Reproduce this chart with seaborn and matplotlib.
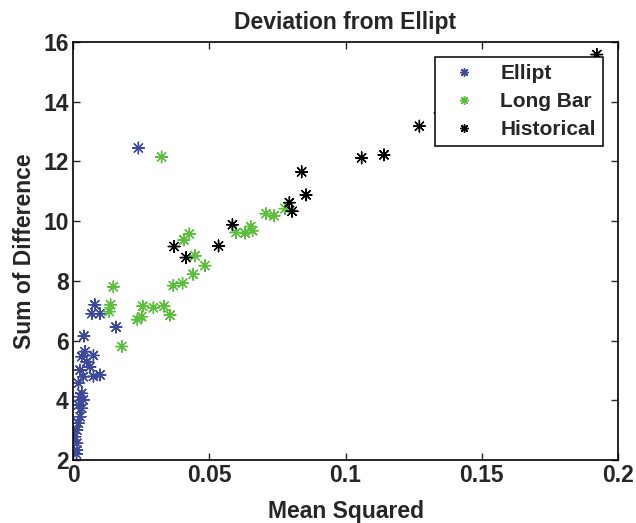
import pandas as pd
import seaborn as sns
import matplotlib.pyplot as plt

# values
ellipt_x = [0.024, 0.008, 0.0069, 0.0099, 0.0158, 0.004, 0.0044, 0.0032, 0.0075, 0.005,
            0.0062, 0.0099, 0.0075, 0.0026, 0.0038, 0.002, 0.0032, 0.0026, 0.0038, 0.002,
            0.0032, 0.0026, 0.002, 0.0014, 0.0007, 0.0014, 0.0014, 0.0013]
ellipt_y = [12.45, 7.2, 6.9, 6.9, 6.45, 6.15, 5.63, 5.46, 5.5, 5.29,
            5.12, 4.85, 4.8, 5.01, 4.79, 4.57, 4.23, 4.12, 4.01, 3.84,
            3.73, 3.45, 3.23, 3.0, 2.78, 2.56, 2.33, 2.2]

longbar_x = [0.0325, 0.0427, 0.0407, 0.0448, 0.0484, 0.0441, 0.0402, 0.0368, 0.0148, 0.0138,
             0.0133, 0.0256, 0.0295, 0.0334, 0.0356, 0.0252, 0.0236, 0.0179, 0.0598, 0.0631,
             0.0652, 0.0659, 0.0708, 0.0738, 0.0778]
longbar_y = [12.15, 9.57, 9.37, 8.84, 8.51, 8.22, 7.92, 7.84, 7.8, 7.2,
             6.97, 7.15, 7.1, 7.15, 6.85, 6.8, 6.7, 5.8, 9.62, 9.6,
             9.82, 9.68, 10.25, 10.18, 10.42]

hist_x = [0.0371, 0.0415, 0.0534, 0.0585, 0.0794, 0.0804, 0.0855, 0.0839, 0.1059, 0.1141,
          0.1271, 0.1347, 0.1922]
hist_y = [9.15, 8.78, 9.17, 9.88, 10.62, 10.33, 10.88, 11.65, 12.12, 12.22,
          13.18, 13.62, 15.58]

groups = ["Ellipt", "Long Bar", "Historical"]
colors = ["#3d4a9c", "#5cbf3c", "#000000"]

df = pd.concat([
    pd.DataFrame({"x": ellipt_x, "y": ellipt_y, "group": groups[0]}),
    pd.DataFrame({"x": longbar_x, "y": longbar_y, "group": groups[1]}),
    pd.DataFrame({"x": hist_x, "y": hist_y, "group": groups[2]}),
])

sns.set_style("ticks")
plt.rcParams["font.family"] = ["Liberation Sans", "DejaVu Sans"]
plt.rcParams["font.weight"] = "bold"

fig = plt.figure(figsize=(6.36, 5.23), dpi=100)
ax = fig.add_axes([0.1148, 0.1205, 0.857, 0.7992])

star = (8, 2, 0)
sns.scatterplot(data=df, x="x", y="y", hue="group", hue_order=groups,
                palette=colors, marker=star, s=70, linewidths=1.0, ax=ax)

ax.set_xlim(0, 0.2)
ax.set_ylim(2, 16)
ax.set_xticks([0, 0.05, 0.1, 0.15, 0.2])
ax.set_xticklabels(["0", "0.05", "0.1", "0.15", "0.2"])
ax.set_yticks(range(2, 17, 2))
ax.tick_params(direction="in", top=True, right=True, length=5, width=1,
               labelsize=16.5, pad=3)
for s in ax.spines.values():
    s.set_visible(True)
    s.set_linewidth(1.2)
    s.set_color("black")

ax.set_title("Deviation from Ellipt", fontsize=16.5, fontweight="bold", pad=9)
ax.set_xlabel("Mean Squared", fontsize=16.5, fontweight="bold", labelpad=9)
ax.set_ylabel("Sum of Difference", fontsize=16.5, fontweight="bold", labelpad=5)

leg = ax.legend(loc="upper right", bbox_to_anchor=(0.9725, 0.964), fontsize=15,
                frameon=True, fancybox=False, edgecolor="black", framealpha=1,
                handlelength=2.1, handletextpad=0.7, borderpad=0.35,
                labelspacing=0.42, markerscale=0.75, borderaxespad=0)
leg.get_frame().set_linewidth(1.1)
for t in leg.get_texts():
    t.set_fontweight("bold")

plt.savefig("out.png", dpi=100)
plt.close()
